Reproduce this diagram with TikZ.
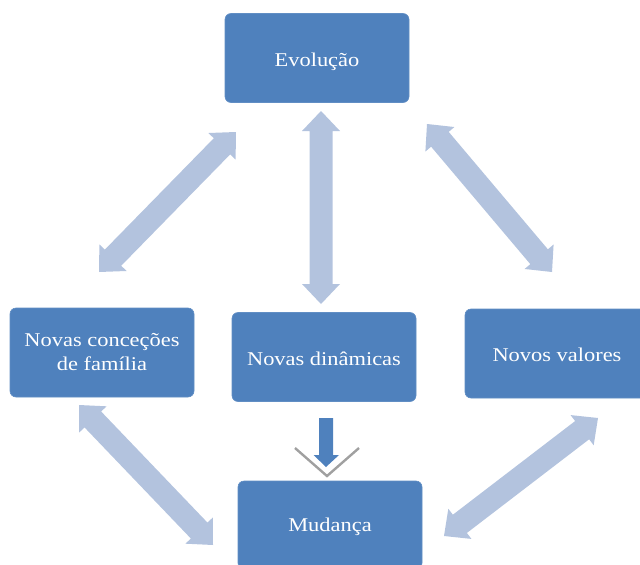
\documentclass[tikz,border=0pt]{standalone}
\usepackage{fontspec}
\setmainfont{Liberation Serif}[FakeStretch=1.15]
\usetikzlibrary{calc}
\definecolor{boxblue}{HTML}{4F81BD}
\definecolor{arrowblue}{HTML}{B3C3DE}
\definecolor{chevgray}{HTML}{A0A0A0}
\newcommand\hl{20pt}
\newcommand\hh{19pt}
\newcommand\hs{11.5pt}
\newcommand\dblarrow[2]{%
  \fill[blockarrow] (#1)
  -- ($(#1)!\hl!(#2)!\hh!90:(#2)$) -- ($(#1)!\hl!(#2)!\hs!90:(#2)$)
  -- ($(#2)!\hl!(#1)!\hs!-90:(#1)$) -- ($(#2)!\hl!(#1)!\hh!-90:(#1)$)
  -- (#2)
  -- ($(#2)!\hl!(#1)!\hh!90:(#1)$) -- ($(#2)!\hl!(#1)!\hs!90:(#1)$)
  -- ($(#1)!\hl!(#2)!\hs!-90:(#2)$) -- ($(#1)!\hl!(#2)!\hh!-90:(#2)$)
  -- cycle;}
\tikzset{
  bluebox/.style={fill=boxblue, draw=boxblue!90!white, line width=0.6pt,
    rounded corners=6pt, minimum width=184pt, minimum height=89pt,
    text=white, align=center, inner sep=0pt,
    text height=17pt, text depth=0pt,
    font=\fontsize{19.5}{24}\selectfont},
  blockarrow/.style={fill=arrowblue},
  smallarrow/.style={fill=boxblue},
  chevron/.style={draw=chevgray, line width=2.4pt},
}
\begin{document}
\begin{tikzpicture}[x=1pt,y=-1pt]
\useasboundingbox (0,0) rectangle (640,565);
% boxes
\node[bluebox] (ev) at (317,58) {Evolução};
\node[bluebox, text height=36.4pt] (nc) at (102,352.5) {Novas conceções\\de família};
\node[bluebox] (nd) at (324,357) {Novas dinâmicas};
\node[bluebox, text height=15pt] (nv) at (557,353.5) {Novos valores};
\node[bluebox, minimum height=88pt, text height=13pt] (mu) at (330,525) {Mudança};
% arrow end points
\coordinate (a1) at (236,132); \coordinate (b1) at (99,272);
\coordinate (a2) at (321,111); \coordinate (b2) at (321,304);
\coordinate (a3) at (427,124); \coordinate (b3) at (552,272);
\coordinate (a4) at (79,405);  \coordinate (b4) at (213,545);
\coordinate (a5) at (598,418); \coordinate (b5) at (444,536);
\dblarrow{a1}{b1}
\dblarrow{a2}{b2}
\dblarrow{a3}{b3}
\dblarrow{a4}{b4}
\dblarrow{a5}{b5}
% small arrow between Novas dinâmicas and Mudança
\coordinate (sa) at (326,418);
\coordinate (sb) at (326,467);
\fill[smallarrow] ($(sa)+(-7,0)$) -- ($(sa)+(7,0)$) -- ($(sb)+(7,-12)$)
  -- ($(sb)+(13,-12)$) -- (sb) -- ($(sb)+(-12.5,-12)$) -- ($(sb)+(-7,-12)$) -- cycle;
\coordinate (cv) at (327,476);
\draw[chevron] ($(cv)+(-32,-28)$) -- (cv) -- ($(cv)+(32,-28)$);
\end{tikzpicture}
\end{document}
